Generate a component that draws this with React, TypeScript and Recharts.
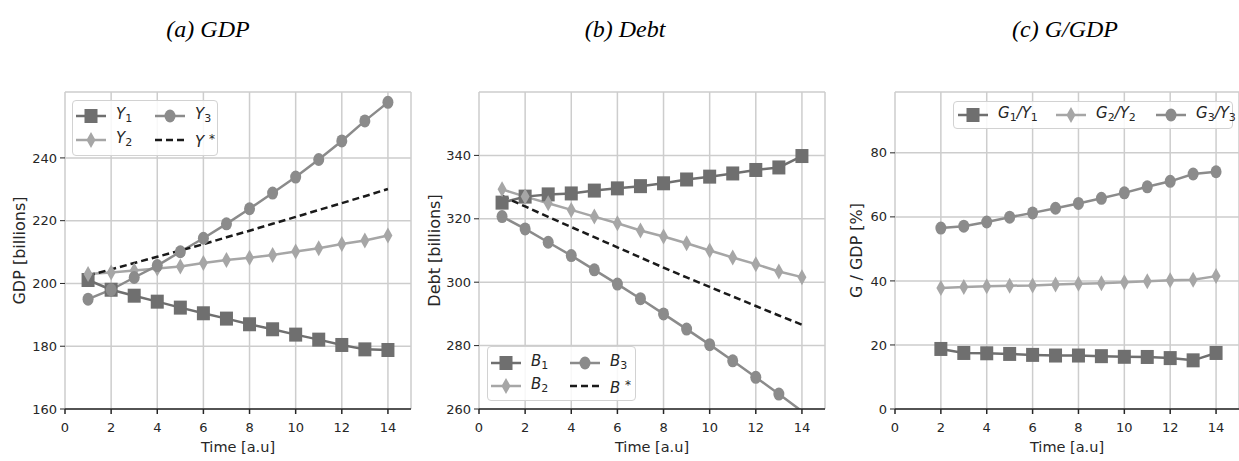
import React from "react";
import { LineChart, Line, XAxis, YAxis, CartesianGrid, Legend } from "recharts";

// time axis
const time = [1, 2, 3, 4, 5, 6, 7, 8, 9, 10, 11, 12, 13, 14];
const timeG = [2, 3, 4, 5, 6, 7, 8, 9, 10, 11, 12, 13, 14];
const xTicks = [0, 2, 4, 6, 8, 10, 12, 14];

// (a) GDP
const gdpY1 = [201.1, 198.0, 196.1, 194.2, 192.3, 190.5, 188.8, 187.0, 185.4, 183.7, 182.1, 180.4, 179.0, 178.8];
const gdpY2 = [203.0, 203.5, 204.1, 204.8, 205.4, 206.5, 207.5, 208.2, 209.1, 210.2, 211.2, 212.6, 213.7, 215.3];
const gdpY3 = [195.0, 198.0, 201.9, 205.7, 210.1, 214.4, 219.0, 223.8, 228.8, 233.9, 239.5, 245.4, 251.8, 257.7];
const gdpStar = [202.5, 204.5, 206.5, 208.5, 210.5, 212.5, 214.7, 216.8, 219.0, 221.2, 223.4, 225.6, 227.8, 230.1];
const gdpTicks = [160, 180, 200, 220, 240];

// (b) Debt
const debtB1 = [325.1, 327.0, 327.7, 328.0, 328.9, 329.6, 330.3, 331.2, 332.4, 333.3, 334.3, 335.4, 336.2, 339.8];
const debtB2 = [329.3, 327.0, 324.9, 322.8, 320.7, 318.6, 316.3, 314.4, 312.3, 310.0, 307.8, 305.7, 303.4, 301.6];
const debtB3 = [320.7, 316.8, 312.6, 308.4, 303.9, 299.4, 294.8, 290.0, 285.2, 280.3, 275.2, 270.0, 264.7, 259.3];
const debtStar = [327.2, 323.9, 320.6, 317.4, 314.2, 311.0, 307.8, 304.6, 301.5, 298.5, 295.5, 292.5, 289.5, 286.6];
const debtTicks = [260, 280, 300, 320, 340];

// (c) G/GDP
const ratioG1 = [18.75, 17.5, 17.4, 17.2, 16.9, 16.7, 16.7, 16.5, 16.3, 16.25, 15.9, 15.2, 17.5];
const ratioG2 = [37.8, 38.1, 38.3, 38.5, 38.6, 38.9, 39.1, 39.3, 39.6, 39.9, 40.2, 40.4, 41.5];
const ratioG3 = [56.5, 57.1, 58.4, 59.9, 61.25, 62.7, 64.2, 65.8, 67.5, 69.4, 71.1, 73.4, 74.1];
const ratioTicks = [0, 20, 40, 60, 80];

const C1 = "#6f6f6f";
const C2 = "#a6a6a6";
const C3 = "#8b8b8b";
const CSTAR = "#1a1a1a";
const TXT = "#262626";
const FONT = "'DejaVu Sans', sans-serif";

const gdpRows = time.map((t, i) => ({ t, y1: gdpY1[i], y2: gdpY2[i], y3: gdpY3[i], ys: gdpStar[i] }));
const debtRows = time.map((t, i) => ({ t, y1: debtB1[i], y2: debtB2[i], y3: debtB3[i], ys: debtStar[i] }));
const ratioRows = timeG.map((t, i) => ({ t, y1: ratioG1[i], y2: ratioG2[i], y3: ratioG3[i] }));

type Shape = "square" | "diamond" | "circle" | "none";

function Marker({ shape, cx, cy, color }: { shape: Shape; cx: number; cy: number; color: string }) {
  if (cx == null || cy == null) return null;
  if (shape === "square") return <rect x={cx - 6.5} y={cy - 7} width={13} height={14} fill={color} />;
  if (shape === "diamond")
    return <polygon points={`${cx},${cy - 8} ${cx + 4.5},${cy} ${cx},${cy + 8} ${cx - 4.5},${cy}`} fill={color} />;
  if (shape === "circle") return <ellipse cx={cx} cy={cy} rx={5.5} ry={6.5} fill={color} />;
  return null;
}

// markers outside the y range are hidden, like matplotlib's clipping
const dotFor = (shape: Shape, color: string, yMin: number) => (p: any) => {
  if (p.value == null || p.value < yMin) return <g key={`d-${p.index}`} />;
  return <Marker key={`d-${p.index}`} shape={shape} cx={p.cx} cy={p.cy} color={color} />;
};

type Item = { label: React.ReactNode; color: string; shape: Shape; dashed?: boolean; x: number; y: number };

function Handle({ color, shape, dashed }: { color: string; shape: Shape; dashed?: boolean }) {
  return (
    <svg width={30} height={18} style={{ display: "block" }}>
      <line x1={0} y1={9} x2={30} y2={9} stroke={color} strokeWidth={2.5} strokeDasharray={dashed ? "7 4" : undefined} />
      <Marker shape={shape} cx={15} cy={9} color={color} />
    </svg>
  );
}

function LegendBox({ w, h, items }: { w: number; h: number; items: Item[] }) {
  return (
    <div
      style={{
        position: "relative",
        width: w,
        height: h,
        boxSizing: "border-box",
        border: "1px solid #d2d2d2",
        borderRadius: 4,
        background: "rgba(255,255,255,0.85)",
        fontFamily: FONT,
        fontSize: 15,
        color: TXT,
      }}
    >
      {items.map((it, i) => (
        <div key={i} style={{ position: "absolute", left: it.x, top: it.y - 9, display: "flex", alignItems: "center", height: 18 }}>
          <Handle color={it.color} shape={it.shape} dashed={it.dashed} />
          <span style={{ marginLeft: 10, fontStyle: "italic", whiteSpace: "nowrap", lineHeight: "18px" }}>{it.label}</span>
        </div>
      ))}
    </div>
  );
}

const subStyle = { fontSize: 11, verticalAlign: "-3px", fontStyle: "normal" as const };
const sub = (base: string, s: string) => (
  <>
    {base}
    <sub style={subStyle}>{s}</sub>
  </>
);
const star = (base: string) => (
  <>
    {base} <sup style={{ fontSize: 12, verticalAlign: "4px", fontStyle: "normal" }}>*</sup>
  </>
);

type PanelProps = {
  left: number;
  width: number;
  rightMargin: number;
  rows: any[];
  yDomain: [number, number];
  yTicks: number[];
  yLabel: string;
  yLabelOffset: number;
  legend: { x: number; y: number; w: number; h: number; items: Item[] };
  hasStar: boolean;
  starName: string;
};

function Panel(p: PanelProps) {
  const tickStyle = { fill: TXT, fontSize: 13, fontFamily: FONT };
  const yMin = p.yDomain[0];
  return (
    <div style={{ position: "absolute", left: p.left, top: 0 }}>
      <LineChart width={p.width} height={461} data={p.rows} margin={{ top: 92, right: p.rightMargin, bottom: 12, left: 0 }}>
        <CartesianGrid stroke="#cdcdcd" strokeWidth={1.5} />
        <XAxis
          dataKey="t"
          type="number"
          domain={[0, 15]}
          ticks={xTicks}
          height={40}
          stroke={TXT}
          strokeWidth={1.5}
          tickSize={5}
          tickMargin={9}
          tick={tickStyle}
          label={{ value: "Time [a.u]", position: "insideBottom", offset: -3, fill: TXT, fontSize: 14.5, fontFamily: FONT }}
        />
        <YAxis
          type="number"
          domain={p.yDomain}
          ticks={p.yTicks}
          allowDataOverflow
          width={65}
          axisLine={false}
          stroke={TXT}
          tickSize={5}
          tickMargin={3}
          tick={tickStyle}
          label={{
            value: p.yLabel,
            angle: -90,
            position: "insideLeft",
            offset: p.yLabelOffset,
            fill: TXT,
            fontSize: 16,
            fontFamily: FONT,
            style: { textAnchor: "middle" },
          }}
        />
        <Legend
          verticalAlign="middle"
          align="center"
          wrapperStyle={{ left: p.legend.x - p.left, top: p.legend.y, width: p.legend.w, height: p.legend.h }}
          content={() => <LegendBox w={p.legend.w} h={p.legend.h} items={p.legend.items} />}
        />
        <Line dataKey="y1" name="1" stroke={C1} strokeWidth={2.5} dot={dotFor("square", C1, yMin)} isAnimationActive={false} />
        <Line dataKey="y2" name="2" stroke={C2} strokeWidth={2.5} dot={dotFor("diamond", C2, yMin)} isAnimationActive={false} />
        <Line dataKey="y3" name="3" stroke={C3} strokeWidth={2.5} dot={dotFor("circle", C3, yMin)} isAnimationActive={false} />
        {p.hasStar && (
          <Line dataKey="ys" name={p.starName} stroke={CSTAR} strokeWidth={2.5} strokeDasharray="7 4" dot={false} isAnimationActive={false} />
        )}
      </LineChart>
    </div>
  );
}

export default function App() {
  const legendA: Item[] = [
    { label: sub("Y", "1"), color: C1, shape: "square", x: 3, y: 15 },
    { label: sub("Y", "2"), color: C2, shape: "diamond", x: 3, y: 39 },
    { label: sub("Y", "3"), color: C3, shape: "circle", x: 82, y: 15 },
    { label: star("Y"), color: CSTAR, shape: "none", dashed: true, x: 82, y: 39 },
  ];
  const legendB: Item[] = [
    { label: sub("B", "1"), color: C1, shape: "square", x: 3, y: 16 },
    { label: sub("B", "2"), color: C2, shape: "diamond", x: 3, y: 39 },
    { label: sub("B", "3"), color: C3, shape: "circle", x: 82, y: 16 },
    { label: star("B"), color: CSTAR, shape: "none", dashed: true, x: 82, y: 39 },
  ];
  const ratioLabel = (n: string) => (
    <>
      G<sub style={subStyle}>{n}</sub>/Y<sub style={subStyle}>{n}</sub>
    </>
  );
  const legendC: Item[] = [
    { label: ratioLabel("1"), color: C1, shape: "square", x: 4, y: 13 },
    { label: ratioLabel("2"), color: C2, shape: "diamond", x: 102, y: 13 },
    { label: ratioLabel("3"), color: C3, shape: "circle", x: 202, y: 13 },
  ];

  return (
    <div style={{ position: "absolute", left: 0, top: 0, width: 1239, height: 461, background: "#fff", overflow: "hidden" }}>
      <svg width={1239} height={60} style={{ position: "absolute", left: 0, top: 0 }}>
        <g fontFamily="'Liberation Serif', serif" fontStyle="italic" fontSize={24} fill="#000" textAnchor="middle">
          <text x={208} y={37}>(a) GDP</text>
          <text x={625} y={37}>(b) Debt</text>
          <text x={1065} y={37}>(c) G/GDP</text>
        </g>
      </svg>
      <Panel
        left={0}
        width={420}
        rightMargin={9}
        rows={gdpRows}
        yDomain={[160, 261]}
        yTicks={gdpTicks}
        yLabel="GDP [billions]"
        yLabelOffset={19}
        legend={{ x: 72, y: 100, w: 146, h: 56, items: legendA }}
        hasStar
        starName="Y*"
      />
      <Panel
        left={414}
        width={416}
        rightMargin={5}
        rows={debtRows}
        yDomain={[260, 360]}
        yTicks={debtTicks}
        yLabel="Debt [billions]"
        yLabelOffset={20}
        legend={{ x: 487, y: 346, w: 149, h: 55, items: legendB }}
        hasStar
        starName="B*"
      />
      <Panel
        left={830}
        width={409}
        rightMargin={0}
        rows={ratioRows}
        yDomain={[0, 99]}
        yTicks={ratioTicks}
        yLabel="G / GDP [%]"
        yLabelOffset={26}
        legend={{ x: 953, y: 101, w: 280, h: 28, items: legendC }}
        hasStar={false}
        starName=""
      />
    </div>
  );
}
